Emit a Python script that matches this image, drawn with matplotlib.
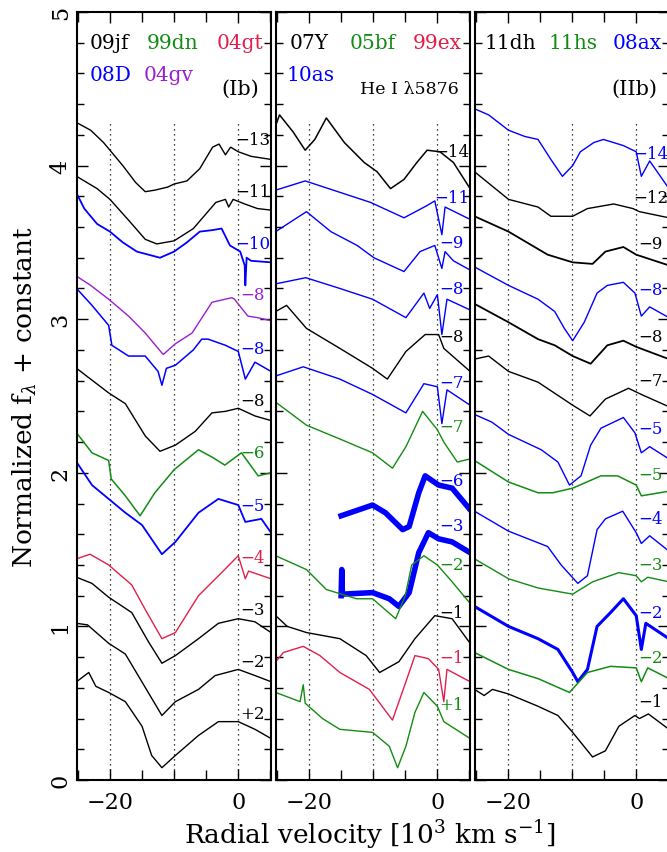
import matplotlib
matplotlib.use("Agg")
import matplotlib.pyplot as plt
from matplotlib.ticker import MultipleLocator, FixedLocator

plt.rcParams['font.family'] = 'DejaVu Serif'
plt.rcParams['mathtext.fontset'] = 'dejavuserif'

K = 'k'
G = '#138c13'
R = '#e0204a'
B = '#0000ff'
P = '#9a1fd0'

# ---- panel (Ib) ----
ib_13_v = [-25.2, -23, -21, -20, -18, -16, -14.5, -13, -11, -10, -8, -6, -4, -3, -2, -1.2, 0, 2, 5.1]
ib_13_f = [4.28, 4.23, 4.15, 4.10, 4.00, 3.89, 3.83, 3.84, 3.86, 3.88, 3.90, 3.98, 4.12, 4.14, 4.07, 4.12, 4.09, 4.06, 4.04]
ib_11_v = [-25.2, -22, -20, -17, -14.5, -12.7, -10, -7, -3.5, -2, -1.5, -0.8, 1, 3, 5.1]
ib_11_f = [3.93, 3.85, 3.78, 3.64, 3.52, 3.49, 3.51, 3.59, 3.76, 3.78, 3.73, 3.78, 3.75, 3.72, 3.71]
ib_10_v = [-25.2, -24, -22, -20, -18, -15.8, -12.2, -10, -8, -6, -4, -2.6, -1.3, 0.3, 1.0, 1.1, 1.3, 2, 5.1]
ib_10_f = [3.82, 3.72, 3.62, 3.57, 3.50, 3.44, 3.40, 3.44, 3.50, 3.57, 3.58, 3.59, 3.48, 3.44, 3.35, 3.22, 3.40, 3.38, 3.37]
ib_8gv_v = [-25.2, -23, -20.2, -17.1, -14.5, -11.7, -9.8, -7.2, -4.1, -1.0, -0.6, 1.5, 3, 5.1]
ib_8gv_f = [3.28, 3.22, 3.13, 3.02, 2.91, 2.77, 2.84, 2.91, 3.11, 3.14, 3.13, 3.02, 3.01, 2.99]
ib_8d_v = [-25.2, -22.8, -20.2, -19.7, -17.1, -14.5, -12.5, -11.9, -11.2, -9.8, -7, -5.7, -4.7, -2, 0, 1.1, 2.6, 5.1]
ib_8d_f = [3.20, 3.09, 2.96, 2.83, 2.76, 2.76, 2.66, 2.57, 2.68, 2.70, 2.80, 2.87, 2.87, 2.83, 2.79, 2.61, 2.72, 2.66]
ib_8jf_v = [-25.2, -20.2, -17.6, -14.5, -12.2, -9.8, -6.7, -4.1, -2, 0, 2.6, 5.1]
ib_8jf_f = [2.68, 2.52, 2.45, 2.24, 2.14, 2.18, 2.27, 2.39, 2.40, 2.42, 2.37, 2.34]
ib_6_v = [-25.2, -22.8, -20.2, -19.8, -17.6, -15.3, -13, -10, -6.2, -4, -2.1, 0.5, 3.1, 5.1]
ib_6_f = [2.26, 2.13, 2.08, 1.96, 1.85, 1.72, 1.87, 2.02, 2.15, 2.10, 2.05, 2.13, 1.98, 2.00]
ib_5_v = [-25.2, -22.8, -20.2, -17.6, -15, -11.9, -9.8, -6.2, -3.1, 0, 1.1, 3.6, 5.1]
ib_5_f = [2.07, 1.92, 1.83, 1.74, 1.66, 1.47, 1.55, 1.74, 1.83, 1.79, 1.68, 1.70, 1.61]
ib_4_v = [-25.2, -23.1, -20.2, -16.6, -14.5, -11.9, -9.8, -6.2, -2.6, 0, 1.1, 1.6, 5.1]
ib_4_f = [1.44, 1.47, 1.40, 1.27, 1.11, 0.92, 0.96, 1.20, 1.35, 1.46, 1.31, 1.36, 1.31]
ib_3_v = [-25.2, -22.8, -20.2, -16.6, -14, -11.9, -9.8, -6.2, -3.1, 0, 2.6, 5.1]
ib_3_f = [1.32, 1.28, 1.19, 1.09, 0.90, 0.76, 0.81, 0.92, 1.02, 1.05, 1.03, 0.96]
ib_2_v = [-25.2, -23.5, -20.2, -17.6, -15.6, -11.9, -9.8, -6.2, -3.6, 0, 2.6, 5.1]
ib_2_f = [1.02, 1.01, 0.89, 0.82, 0.68, 0.42, 0.51, 0.59, 0.68, 0.72, 0.68, 0.64]
ib_p2_v = [-25.2, -23.3, -22.2, -20.2, -17.6, -15, -13.5, -11.9, -9.8, -6.2, -3.1, 0, 2.6, 5.1]
ib_p2_f = [0.64, 0.70, 0.61, 0.57, 0.51, 0.35, 0.16, 0.08, 0.16, 0.29, 0.38, 0.38, 0.33, 0.27]

# ---- panel He I ----
he_14_v = [-25.2, -24.6, -22.5, -20.6, -19.1, -17.3, -14.5, -11.4, -9.4, -7.3, -5.2, -3.2, -1.6, 0.4, 2.5, 5.1]
he_14_f = [4.26, 4.33, 4.22, 4.10, 4.17, 4.31, 4.15, 4.02, 3.96, 3.85, 3.91, 4.02, 4.10, 4.09, 4.02, 3.85]
he_11_v = [-25.2, -20.6, -15.5, -10.4, -5.2, -1.6, -0.4, 0.7, 1.2, 4.6, 5.1]
he_11_f = [3.84, 3.90, 3.83, 3.76, 3.66, 3.74, 3.77, 3.55, 3.73, 3.66, 3.65]
he_9_v = [-25.2, -20.4, -16.6, -12.5, -9.9, -5.2, -2.7, -0.4, 0.7, 1.2, 2.5, 5.1]
he_9_f = [3.57, 3.70, 3.57, 3.48, 3.40, 3.31, 3.44, 3.48, 3.33, 3.44, 3.38, 3.32]
he_8b_v = [-25.2, -20.5, -15.2, -10.1, -4.9, -2.1, -1.2, 0, 0.7, 1.5, 5.1]
he_8b_f = [3.23, 3.27, 3.20, 3.13, 3.01, 3.17, 3.07, 3.16, 2.90, 3.13, 3.06]
he_8k_v = [-25.2, -23.5, -20.4, -15.2, -10.1, -7.8, -4.9, -1.9, 0.2, 1.0, 5.1]
he_8k_f = [3.05, 3.09, 2.94, 2.81, 2.68, 2.61, 2.79, 2.90, 2.90, 2.81, 2.66]
he_7b_v = [-25.2, -20.9, -15.2, -10.1, -4.9, -2.1, 0, 0.7, 1.5, 5.1]
he_7b_f = [2.63, 2.69, 2.61, 2.51, 2.39, 2.58, 2.56, 2.32, 2.54, 2.44]
he_7g_v = [-25.2, -20.4, -15.2, -10.1, -7.0, -4.9, -2.3, 0, 1.0, 3.1, 5.1]
he_7g_f = [2.46, 2.31, 2.22, 2.13, 2.03, 2.17, 2.40, 2.28, 2.20, 2.07, 2.09]
he_6_v = [-15, -10.1, -8.1, -5.4, -4.4, -2.9, -1.9, 0.2, 2.3, 5.1]
he_6_f = [1.72, 1.79, 1.74, 1.63, 1.65, 1.87, 1.98, 1.92, 1.90, 1.76]
he_3_v = [-15, -14.9, -14.8, -10.1, -7.5, -6.0, -4.4, -2.9, -1.4, 0.2, 2.3, 4.3, 5.1]
he_3_f = [1.20, 1.37, 1.21, 1.22, 1.18, 1.13, 1.22, 1.48, 1.61, 1.57, 1.55, 1.50, 1.48]
he_2_v = [-25.2, -20.4, -17.3, -12.6, -10.1, -6.5, -5, -4, -2.1, 0, 2.3, 5.1]
he_2_f = [1.46, 1.37, 1.24, 1.18, 1.18, 1.05, 1.20, 1.40, 1.46, 1.40, 1.29, 1.15]
he_1k_v = [-25.2, -23.4, -20.4, -15.2, -11.1, -9.0, -6.0, -3.5, -0.4, 2.3, 5.1]
he_1k_f = [1.07, 1.00, 0.96, 0.92, 0.81, 0.70, 0.77, 0.92, 1.07, 1.05, 0.89]
he_1r_v = [-25.2, -24, -20.9, -18.3, -15.2, -10.6, -7.0, -4.9, -3.5, -1.4, 0.2, 1.0, 1.5, 5.1]
he_1r_f = [0.77, 0.83, 0.87, 0.81, 0.70, 0.59, 0.39, 0.64, 0.81, 0.79, 0.72, 0.51, 0.72, 0.64]
he_p1_v = [-25.2, -21.4, -20.9, -20.6, -17.9, -15.2, -10.1, -7.5, -6.2, -4.9, -3.5, -2.1, 0, 1.0, 5.1]
he_p1_f = [0.57, 0.51, 0.62, 0.50, 0.40, 0.33, 0.31, 0.22, 0.08, 0.22, 0.44, 0.57, 0.48, 0.38, 0.27]

# ---- panel (IIb) ----
ii_14_v = [-25.2, -23, -19.9, -17.4, -15.3, -13.3, -11.5, -9.9, -8.7, -6.6, -5.1, -2.0, 0, 0.8, 2.1, 5.1]
ii_14_f = [4.37, 4.33, 4.23, 4.19, 4.17, 4.04, 3.93, 4.00, 4.09, 4.15, 4.17, 4.13, 4.09, 3.93, 4.03, 3.85]
ii_12_v = [-25.2, -19.9, -15.3, -13.3, -9.9, -7.6, -3.5, -0.5, 0.5, 5.1]
ii_12_f = [3.96, 3.78, 3.73, 3.67, 3.67, 3.72, 3.75, 3.72, 3.70, 3.66]
ii_9_v = [-25.2, -19.9, -13.8, -9.9, -6.8, -4.8, -2.0, 0, 5.1]
ii_9_f = [3.67, 3.57, 3.42, 3.37, 3.36, 3.44, 3.47, 3.42, 3.35]
ii_8b_v = [-25.2, -19.9, -15.3, -12.7, -11.2, -9.9, -8.1, -6.1, -4.5, -2.0, -0.2, 0.8, 2.1, 5.1]
ii_8b_f = [3.34, 3.22, 3.13, 3.05, 2.94, 2.86, 2.98, 3.17, 3.22, 3.24, 3.17, 3.02, 3.08, 3.01]
ii_8k_v = [-25.2, -19.9, -15.3, -12.7, -9.9, -7.1, -4.5, -2.0, 0, 5.1]
ii_8k_f = [3.10, 2.98, 2.87, 2.83, 2.76, 2.71, 2.83, 2.86, 2.82, 2.74]
ii_7_v = [-25.2, -23, -19.9, -15.3, -9.9, -7.2, -4.8, -1.2, 0.8, 5.1]
ii_7_f = [2.74, 2.76, 2.66, 2.59, 2.44, 2.37, 2.48, 2.55, 2.51, 2.43]
ii_5b_v = [-25.2, -22.5, -19.9, -14.8, -12.2, -10.4, -8.6, -7.1, -5.5, -2.0, -0.2, 0.8, 2.1, 5.1]
ii_5b_f = [2.38, 2.33, 2.25, 2.15, 2.07, 1.92, 1.98, 2.18, 2.29, 2.36, 2.26, 2.13, 2.17, 2.09]
ii_5g_v = [-25.2, -19.9, -15.3, -13, -9.9, -5.5, -2.9, 0, 0.8, 5.1]
ii_5g_f = [2.08, 1.94, 1.87, 1.87, 1.90, 1.98, 1.98, 1.92, 1.85, 1.88]
ii_4_v = [-25.2, -19.9, -13.8, -11.7, -9.1, -7.6, -6.1, -4.8, -2.1, 0, 0.8, 2.1, 5.1]
ii_4_f = [1.75, 1.62, 1.52, 1.40, 1.28, 1.33, 1.63, 1.70, 1.75, 1.61, 1.54, 1.59, 1.49]
ii_3_v = [-25.2, -19.9, -15.3, -9.9, -6.8, -2.7, 0, 0.8, 1.8, 5.1]
ii_3_f = [1.44, 1.31, 1.25, 1.21, 1.29, 1.35, 1.33, 1.29, 1.32, 1.29]
ii_2b_v = [-25.2, -19.9, -15.3, -12.2, -9.9, -9.1, -7.6, -6.1, -4.0, -2.0, 0, 0.8, 1.5, 5.1]
ii_2b_f = [1.13, 1.00, 0.92, 0.85, 0.70, 0.64, 0.72, 1.00, 1.09, 1.18, 1.07, 0.85, 1.02, 0.92]
ii_2g_v = [-25.2, -19.9, -15.3, -10.4, -7.6, -4.0, 0, 0.8, 1.8, 5.1]
ii_2g_f = [0.83, 0.72, 0.66, 0.57, 0.70, 0.74, 0.73, 0.64, 0.73, 0.66]
ii_1_v = [-25.2, -23.7, -22.4, -19.9, -15.3, -12.2, -9.9, -6.8, -4.8, -2.7, -0.2, 0.5, 1.9, 5.1]
ii_1_f = [0.59, 0.55, 0.59, 0.56, 0.48, 0.42, 0.31, 0.15, 0.19, 0.35, 0.42, 0.40, 0.43, 0.33]

M = '\u2212'

# (velocity, flux, colour, line width, label, label height)
panels = [
    [(ib_13_v, ib_13_f, K, 1.0, M + '13', 4.17),
     (ib_11_v, ib_11_f, K, 1.0, M + '11', 3.83),
     (ib_10_v, ib_10_f, B, 1.3, M + '10', 3.49),
     (ib_8gv_v, ib_8gv_f, P, 1.0, M + '8', 3.16),
     (ib_8d_v, ib_8d_f, B, 1.1, M + '8', 2.81),
     (ib_8jf_v, ib_8jf_f, K, 1.0, M + '8', 2.47),
     (ib_6_v, ib_6_f, G, 1.1, M + '6', 2.13),
     (ib_5_v, ib_5_f, B, 1.3, M + '5', 1.79),
     (ib_4_v, ib_4_f, R, 1.0, M + '4', 1.45),
     (ib_3_v, ib_3_f, K, 1.0, M + '3', 1.11),
     (ib_2_v, ib_2_f, K, 1.0, M + '2', 0.77),
     (ib_p2_v, ib_p2_f, K, 1.0, '+2', 0.43)],
    [(he_14_v, he_14_f, K, 1.1, M + '14', 4.09),
     (he_11_v, he_11_f, B, 1.0, M + '11', 3.79),
     (he_9_v, he_9_f, B, 1.0, M + '9', 3.50),
     (he_8b_v, he_8b_f, B, 1.0, M + '8', 3.20),
     (he_8k_v, he_8k_f, K, 1.0, M + '8', 2.89),
     (he_7b_v, he_7b_f, B, 1.0, M + '7', 2.59),
     (he_7g_v, he_7g_f, G, 1.0, M + '7', 2.30),
     (he_6_v, he_6_f, B, 4.0, M + '6', 1.95),
     (he_3_v, he_3_f, B, 4.0, M + '3', 1.66),
     (he_2_v, he_2_f, G, 1.0, M + '2', 1.40),
     (he_1k_v, he_1k_f, K, 1.0, M + '1', 1.09),
     (he_1r_v, he_1r_f, R, 1.0, M + '1', 0.80),
     (he_p1_v, he_p1_f, G, 1.0, '+1', 0.49)],
    [(ii_14_v, ii_14_f, B, 1.0, M + '14', 4.08),
     (ii_12_v, ii_12_f, K, 1.0, M + '12', 3.79),
     (ii_9_v, ii_9_f, K, 1.3, M + '9', 3.49),
     (ii_8b_v, ii_8b_f, B, 1.0, M + '8', 3.19),
     (ii_8k_v, ii_8k_f, K, 1.3, M + '8', 2.89),
     (ii_7_v, ii_7_f, K, 1.0, M + '7', 2.60),
     (ii_5b_v, ii_5b_f, B, 1.0, M + '5', 2.29),
     (ii_5g_v, ii_5g_f, G, 1.1, M + '5', 1.99),
     (ii_4_v, ii_4_f, B, 1.0, M + '4', 1.70),
     (ii_3_v, ii_3_f, G, 1.0, M + '3', 1.40),
     (ii_2b_v, ii_2b_f, B, 2.2, M + '2', 1.09),
     (ii_2g_v, ii_2g_f, G, 1.1, M + '2', 0.80),
     (ii_1_v, ii_1_f, K, 1.0, M + '1', 0.51)],
]

# header names: (text, colour, x, y)
headers = [
    [('09jf', K, -23.1, 4.80), ('99dn', G, -14.2, 4.80), ('04gt', R, -3.3, 4.80),
     ('08D', B, -23.1, 4.59), ('04gv', P, -14.8, 4.59)],
    [('07Y', K, -23.0, 4.80), ('05bf', G, -13.6, 4.80), ('99ex', R, -3.9, 4.80),
     ('10as', B, -23.5, 4.59)],
    [('11dh', K, -23.7, 4.80), ('11hs', G, -13.6, 4.80), ('08ax', B, -3.7, 4.80)],
]
titles = ['(Ib)', 'He I \u03bb5876', '(IIb)']
title_sizes = [15, 12.5, 15]

fig = plt.figure(figsize=(6.67, 8.53), dpi=100)
lefts = [0.1148, 0.4133, 0.7114]
for i in range(3):
    ax = fig.add_axes([lefts[i], 0.0844, 0.2915, 0.9004])
    ax.set_xlim(-25.2, 5.1)
    ax.set_ylim(0, 5)
    ax.vlines([-20, -10, 0], 0, 4.29, colors='k', linestyles=(0, (1, 3)), lw=0.9)
    for v, f, c, lw, lab, ly in panels[i]:
        ax.plot(v, f, color=c, lw=lw)
        ax.text(2.2, ly, lab, color=c, ha='center', va='center', fontsize=12)
    for t, c, x, y in headers[i]:
        ax.text(x, y, t, color=c, ha='left', va='center', fontsize=14.5)
    ax.text(3.3, 4.50, titles[i], ha='right', va='center', fontsize=title_sizes[i])

    ax.xaxis.set_major_locator(FixedLocator([-20, 0]))
    ax.xaxis.set_minor_locator(MultipleLocator(5))
    ax.yaxis.set_major_locator(MultipleLocator(1))
    ax.yaxis.set_minor_locator(MultipleLocator(0.2))
    ax.tick_params(which='both', direction='in', top=True, right=True, width=1.0)
    ax.tick_params(which='major', length=8, labelsize=16)
    ax.tick_params(which='minor', length=5)
    ax.tick_params(axis='x', which='minor', length=7)
    ax.tick_params(axis='x', pad=8)
    for s in ax.spines.values():
        s.set_linewidth(1.5)
    if i == 0:
        ax.tick_params(axis='y', labelrotation=90)
        for lbl in ax.get_yticklabels():
            lbl.set_va('center')
        ax.set_ylabel(r'Normalized f$_\lambda$ + constant', fontsize=19, labelpad=8)
    else:
        ax.set_yticklabels([])

fig.text(0.555, 0.022, r'Radial velocity [10$^3$ km s$^{-1}$]', ha='center', va='center', fontsize=19)

fig.savefig('out.png', dpi=100)
